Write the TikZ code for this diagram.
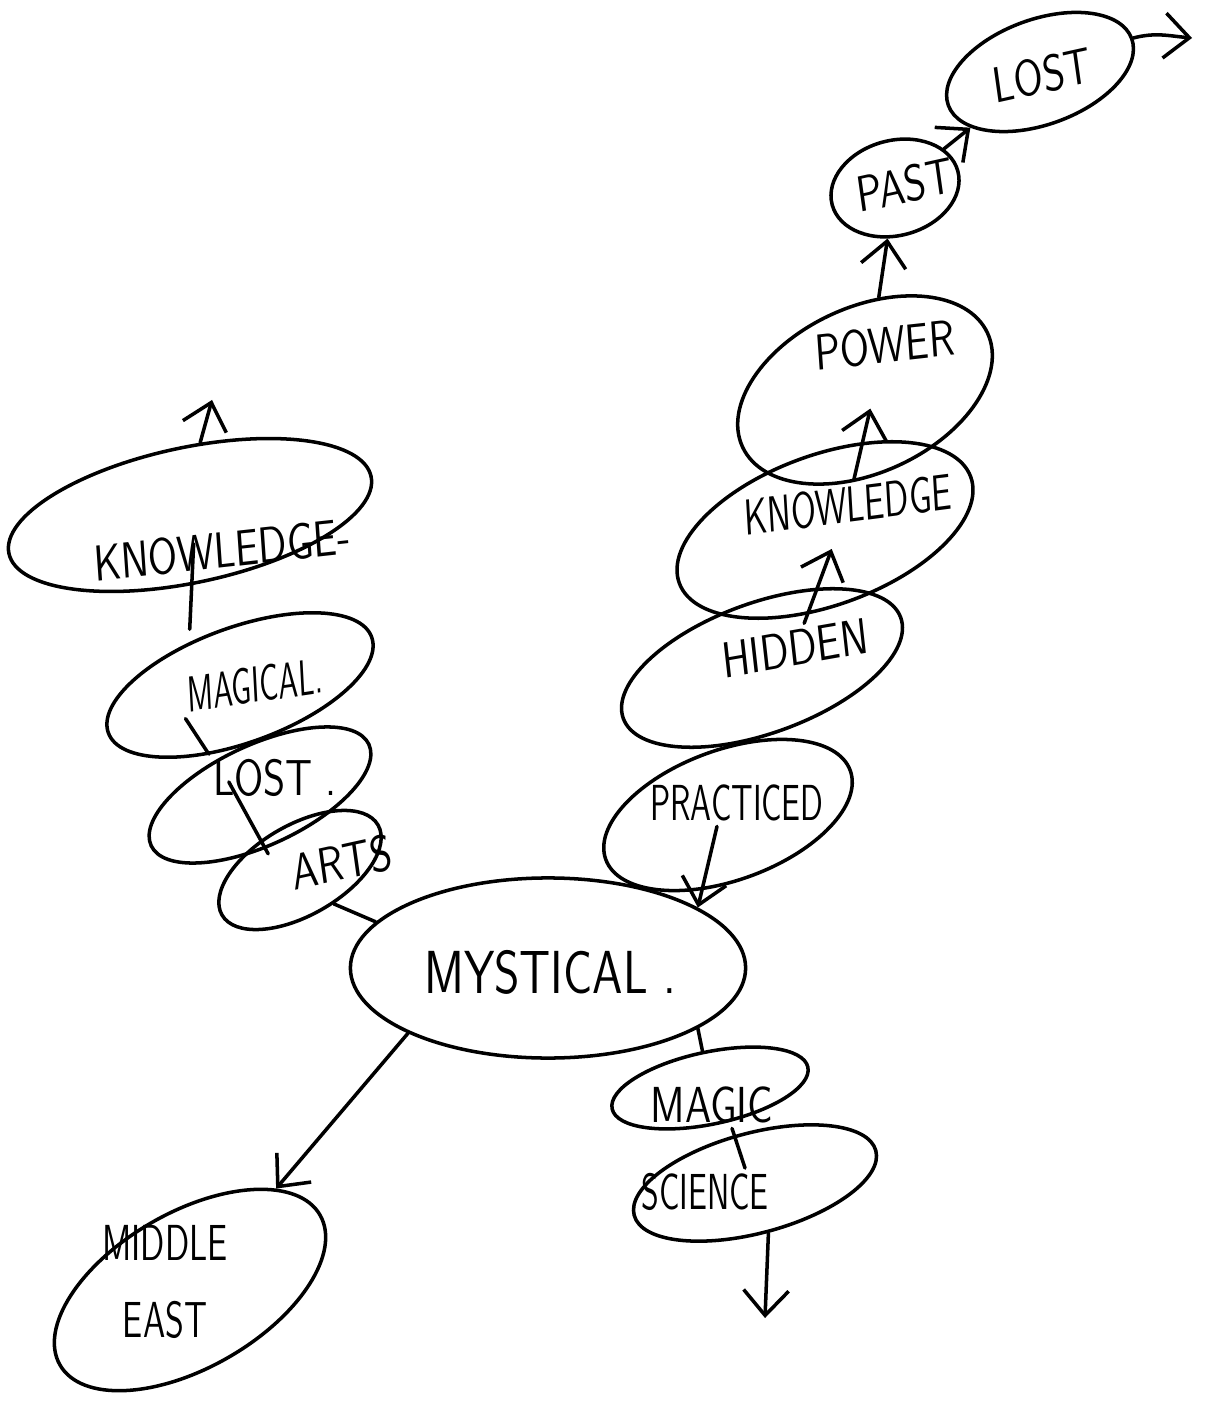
\documentclass[tikz,border=0pt]{standalone}
\usepackage{tikz}
\usetikzlibrary{shapes,arrows.meta}
\tikzset{
    bubble/.style={draw, ellipse, inner sep=0pt},
    word/.style={inner sep=1pt, font=\sffamily\Large, xscale=0.8},
    pointer/.style={-{Straight Barb[length=2.5mm,width=4.5mm]}}}

\begin{document}
\begin{tikzpicture}[x=0.01cm, y=-0.01cm, line width=1pt, line cap=round]
\useasboundingbox (0,0) rectangle (1208,1404);

%centre
\node[bubble, minimum width=3.95cm, minimum height=1.8cm] (mysE) at (548,968) {};
\node[word, font=\sffamily\LARGE] (mys) at (550,972) {MYSTICAL .};

%right branch
\node[bubble, minimum width=2.6cm, minimum height=1.3cm, rotate=20] (pracE) at (728,815) {};
\node[word, xscale=0.8] (prac) at (737,803) {PRACTICED};
\node[bubble, minimum width=2.95cm, minimum height=1.3cm, rotate=20] (hidE) at (762,668) {};
\node[word, rotate=8] (hid) at (795,648) {HIDDEN};
\node[bubble, minimum width=3.1cm, minimum height=1.5cm, rotate=20] (knwRE) at (825,530) {};
\node[word, xscale=0.85, rotate=5] (knwR) at (848,505) {KNOWLEDGE};
\node[bubble, minimum width=2.7cm, minimum height=1.65cm, rotate=25] (pwrE) at (865,390) {};
\node[word, rotate=5] (pwr) at (885,345) {POWER};
\node[bubble, minimum width=1.3cm, minimum height=0.95cm, rotate=15] (pastE) at (895,188) {};
\node[word, rotate=10] (past) at (905,185) {PAST};
\node[bubble, minimum width=1.95cm, minimum height=1.05cm, rotate=20] (lostE) at (1040,72) {};
\node[word, rotate=10] (lost) at (1042,75) {LOST};
\coordinate (outR) at (1192,38);

\draw[pointer] ([xshift=-2mm]prac.south) -- (mysE.22);
\draw[pointer, shorten >=2mm] (hid) -- (knwR);
\draw[pointer, shorten >=4mm] (knwR) -- (pwr);
\draw[pointer] (pwrE) -- (pastE);
\draw[pointer] (pastE) -- (lostE);
\draw[pointer] (lostE.east) to[out=15, in=175] (outR);

%lower right
\node[bubble, minimum width=2cm, minimum height=0.72cm, rotate=12] (magE) at (710,1088) {};
\node[word] (mag) at (712,1105) {MAGIC};
\node[bubble, minimum width=2.5cm, minimum height=1cm, rotate=15] (sciE) at (755,1183) {};
\node[word, xscale=0.8] (sci) at (705,1192) {SCIENCE};
\coordinate (downR) at (765,1318);

\draw (mysE.-22) -- (magE);
\draw ([xshift=2mm]mag.south) -- ([xshift=4mm]sci.north);
\draw[pointer] (sciE.south) -- (downR);

%lower left
\node[bubble, minimum width=3cm, minimum height=1.55cm, rotate=30] (midE) at (190,1290) {};
\node[word, xscale=0.85, align=center] (mid) at (165,1282) {MIDDLE\\[4pt]EAST};

\draw[pointer] (mysE.205) -- (midE);

%left branch
\node[bubble, minimum width=1.8cm, minimum height=0.9cm, rotate=30] (artE) at (300,870) {};
\node[word, rotate=10] (art) at (342,862) {ARTS};
\node[bubble, minimum width=2.4cm, minimum height=1cm, rotate=25] (lstLE) at (260,795) {};
\node[word] (lstL) at (275,778) {LOST .};
\node[bubble, minimum width=2.8cm, minimum height=1.15cm, rotate=20] (mgcE) at (240,685) {};
\node[word, xscale=0.75, rotate=5] (mgc) at (255,685) {MAGICAL.};
\node[bubble, minimum width=3.7cm, minimum height=1.35cm, rotate=12] (knwLE) at (190,515) {};
\node[word, rotate=5] (knwL) at (222,550) {KNOWLEDGE-};
\coordinate (upL) at (212,400);

\draw (artE.-75) -- (mysE.165);
\draw ([xshift=2mm, yshift=2mm]lstL.south west) -- ([xshift=-2mm, yshift=2mm]art.west);
\draw (mgc.south west) -- (lstL.north west);
\draw ([xshift=-3mm]mgcE.north) -- ([xshift=-3mm, yshift=3mm]knwL.south);
\draw[pointer] (knwLE.70) -- (upL);
\end{tikzpicture}
\end{document}
